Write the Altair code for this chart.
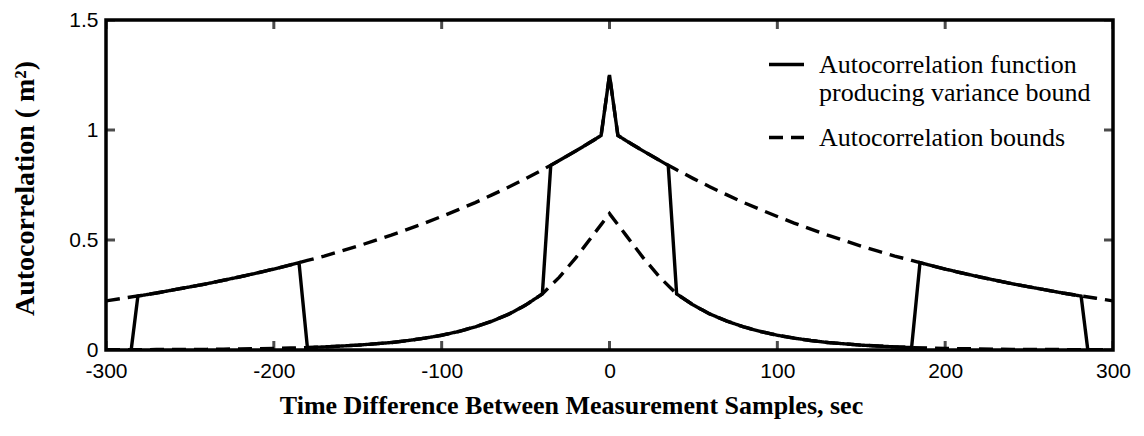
import altair as alt
import pandas as pd

# ---- data ----
t_bounds = [-300, -290, -280, -270, -260, -250, -240, -230, -220, -210, -200, -190, -180, -170, -160,
            -150, -140, -130, -120, -110, -100, -90, -80, -70, -60, -50, -40, -30, -20, -10, -5, 0,
            5, 10, 20, 30, 40, 50, 60, 70, 80, 90, 100, 110, 120, 130, 140, 150, 160, 170, 180,
            190, 200, 210, 220, 230, 240, 250, 260, 270, 280, 290, 300]
upper_bound = [0.223, 0.235, 0.247, 0.259, 0.273, 0.287, 0.301, 0.317, 0.333, 0.350, 0.368, 0.387, 0.407,
               0.427, 0.449, 0.472, 0.497, 0.522, 0.549, 0.577, 0.607, 0.638, 0.670, 0.705, 0.741, 0.779,
               0.819, 0.861, 0.905, 0.951, 0.975, 1.25,
               0.975, 0.951, 0.905, 0.861, 0.819, 0.779, 0.741, 0.705, 0.670, 0.638, 0.607, 0.577, 0.549,
               0.522, 0.497, 0.472, 0.449, 0.427, 0.407, 0.387, 0.368, 0.350, 0.333, 0.317, 0.301, 0.287,
               0.273, 0.259, 0.247, 0.235, 0.223]
lower_bound = [0.001, 0.001, 0.001, 0.002, 0.002, 0.003, 0.003, 0.004, 0.005, 0.006, 0.007, 0.009, 0.011,
               0.014, 0.018, 0.022, 0.028, 0.034, 0.043, 0.054, 0.067, 0.084, 0.105, 0.131, 0.163, 0.204,
               0.255, 0.33, 0.42, 0.52, 0.57, 0.62,
               0.57, 0.52, 0.42, 0.33, 0.255, 0.204, 0.163, 0.131, 0.105, 0.084, 0.067, 0.054, 0.043,
               0.034, 0.028, 0.022, 0.018, 0.014, 0.011, 0.009, 0.007, 0.006, 0.005, 0.004, 0.003, 0.003,
               0.002, 0.002, 0.001, 0.001, 0.001]

t_func = [-285, -281, -270, -260, -250, -240, -230, -220, -210, -200, -190, -185,
          -180, -170, -160, -150, -140, -130, -120, -110, -100, -90, -80, -70, -60, -50, -40,
          -35, -30, -20, -10, -5, 0,
          5, 10, 20, 30, 35,
          40, 50, 60, 70, 80, 90, 100, 110, 120, 130, 140, 150, 160, 170, 180,
          185, 190, 200, 210, 220, 230, 240, 250, 260, 270, 281, 285]
func_vals = [0.0, 0.245, 0.259, 0.273, 0.287, 0.301, 0.317, 0.333, 0.350, 0.368, 0.387, 0.397,
             0.011, 0.014, 0.018, 0.022, 0.028, 0.034, 0.043, 0.054, 0.067, 0.084, 0.105, 0.131, 0.163,
             0.204, 0.255,
             0.839, 0.861, 0.905, 0.951, 0.975, 1.25,
             0.975, 0.951, 0.905, 0.861, 0.839,
             0.255, 0.204, 0.163, 0.131, 0.105, 0.084, 0.067, 0.054, 0.043, 0.034, 0.028, 0.022, 0.018,
             0.014, 0.011,
             0.397, 0.387, 0.368, 0.350, 0.333, 0.317, 0.301, 0.287, 0.273, 0.259, 0.245, 0.0]

x_ticks = [-300, -200, -100, 0, 100, 200, 300]
y_ticks = [0, 0.5, 1, 1.5]
x_range = [-300, 300]
y_range = [0, 1.5]
series_names = ["Autocorrelation function|producing variance bound", "Autocorrelation bounds"]

x_title = "Time Difference Between Measurement Samples, sec"
y_title = "Autocorrelation ( m\u00b2)"

n = len(t_bounds)
bounds = pd.DataFrame({
    "t": t_bounds + t_bounds,
    "value": upper_bound + lower_bound,
    "curve": ["upper"] * n + ["lower"] * n,
    "series": [series_names[1]] * (2 * n),
})
func = pd.DataFrame({"t": t_func, "value": func_vals, "series": [series_names[0]] * len(t_func)})

# inward tick marks on all four sides of the frame
xt = pd.DataFrame({"t": x_ticks * 2, "value": [y_range[0]] * len(x_ticks) + [y_range[1]] * len(x_ticks)})
yt = pd.DataFrame({"t": [x_range[0]] * len(y_ticks) + [x_range[1]] * len(y_ticks), "value": y_ticks * 2})

x_scale = alt.Scale(domain=x_range, nice=False, zero=False)
y_scale = alt.Scale(domain=y_range, nice=False, zero=False)
dash_scale = alt.Scale(domain=series_names, range=[[1, 0], [14, 8]])

legend = alt.Legend(
    title=None, orient="none", legendX=661, legendY=25, padding=0,
    symbolType="stroke", symbolSize=1225, symbolStrokeWidth=3.4, symbolStrokeColor="black",
    labelFont="Liberation Serif", labelFontSize=26, labelColor="black", labelLimit=600,
    labelOffset=13, rowPadding=12, labelExpr="split(datum.label, '|')",
)

label_common = dict(labelFont="Liberation Sans", labelFontSize=21, labelColor="black",
                    labelExpr="'' + datum.value", labelFlush=False, labelOverlap=False,
                    ticks=False, tickSize=0, domain=False, grid=False)
title_common = dict(titleFont="Liberation Serif", titleFontWeight="bold", titleColor="black",
                    titleBaseline="alphabetic", titleAlign="center")

x_axis_bottom = alt.Axis(orient="bottom", values=x_ticks, title=x_title, titleFontSize=26,
                         labelPadding=10, titleX=465, titleY=63, **label_common, **title_common)
y_axis_left = alt.Axis(orient="left", values=y_ticks, title=y_title, titleFontSize=28,
                       labelPadding=8, titleX=-73, titleY=168, titleAngle=-90,
                       **label_common, **title_common)

bounds_layer = alt.Chart(bounds).mark_line(color="black", strokeWidth=3.4, clip=True).encode(
    x=alt.X("t:Q", scale=x_scale, axis=x_axis_bottom),
    y=alt.Y("value:Q", scale=y_scale, axis=y_axis_left),
    detail="curve:N",
    strokeDash=alt.StrokeDash("series:N", scale=dash_scale, legend=legend),
)

func_layer = alt.Chart(func).mark_line(color="black", strokeWidth=3.4, clip=True).encode(
    x=alt.X("t:Q", scale=x_scale, axis=None),
    y=alt.Y("value:Q", scale=y_scale, axis=None),
    strokeDash=alt.StrokeDash("series:N", scale=dash_scale, legend=legend),
)

xtick_layer = alt.Chart(xt).mark_tick(color="black", orient="vertical", size=18, thickness=3,
                                       clip=True).encode(
    x=alt.X("t:Q", scale=x_scale, axis=None),
    y=alt.Y("value:Q", scale=y_scale, axis=None),
)
ytick_layer = alt.Chart(yt).mark_tick(color="black", orient="horizontal", size=18, thickness=3,
                                       clip=True).encode(
    x=alt.X("t:Q", scale=x_scale, axis=None),
    y=alt.Y("value:Q", scale=y_scale, axis=None),
)

chart = (
    alt.layer(bounds_layer, func_layer, xtick_layer, ytick_layer)
    .resolve_axis(x="independent", y="independent")
    .properties(
        width=1007, height=330,
        padding={"left": 98, "top": 12, "right": 20, "bottom": 70},
        autosize=alt.AutoSizeParams(type="none"),
        background="white",
    )
    .configure_view(stroke="black", strokeWidth=3.5)
)

chart.save("out.html", embed_options={"renderer": "svg", "actions": False})
